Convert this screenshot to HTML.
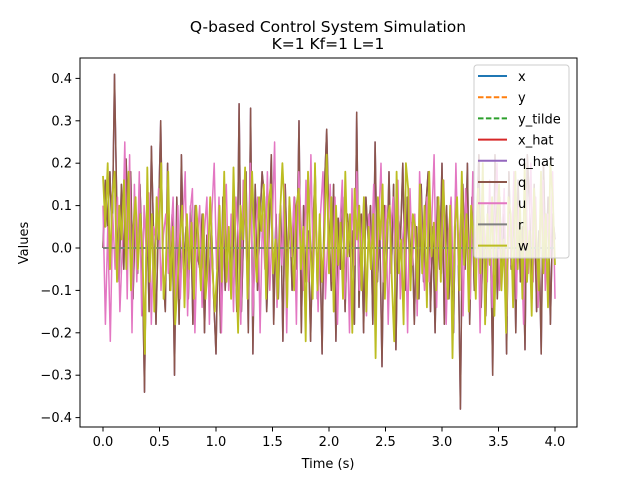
<!DOCTYPE html>
<html><head><meta charset="utf-8"><style>
body{margin:0;background:#fff}
svg text{font-family:"DejaVu Sans","Liberation Sans",sans-serif;fill:#000}
</style></head><body>
<svg id="c" width="640" height="480" viewBox="0 0 640 480" xmlns="http://www.w3.org/2000/svg"></svg>
<script>
const xTicks=[0.0,0.5,1.0,1.5,2.0,2.5,3.0,3.5,4.0];
const xTickLabels=["0.0","0.5","1.0","1.5","2.0","2.5","3.0","3.5","4.0"];
const yTicks=[-0.4,-0.3,-0.2,-0.1,0.0,0.1,0.2,0.3,0.4];
const yTickLabels=["−0.4","−0.3","−0.2","−0.1","0.0","0.1","0.2","0.3","0.4"];
const qVals=[0.0,0.16,0.05,0.18,0.02,0.41,0.10,-0.08,0.15,-0.05,0.21,0.02,0.18,-0.12,0.08,-0.06,0.15,-0.02,-0.34,0.10,-0.15,0.24,0.02,-0.18,0.05,0.30,-0.05,-0.15,0.20,-0.10,0.08,-0.30,0.12,-0.18,0.22,-0.05,0.05,-0.12,0.10,-0.18,0.10,-0.02,-0.05,0.08,-0.20,0.03,-0.10,0.06,-0.12,-0.25,0.04,-0.20,0.12,-0.10,0.05,0.02,-0.08,0.10,-0.15,0.34,-0.15,0.05,0.18,-0.20,0.33,-0.25,0.15,-0.10,0.05,0.18,0.12,-0.15,0.02,0.22,-0.18,0.08,-0.12,0.10,-0.22,0.15,-0.06,0.08,-0.10,0.12,-0.05,0.30,-0.20,0.10,-0.08,0.04,-0.22,0.05,0.18,-0.12,0.02,-0.25,0.14,0.28,0.05,-0.10,0.15,-0.22,0.07,-0.05,0.12,-0.15,0.08,-0.02,0.04,-0.18,0.32,-0.14,0.08,-0.20,0.12,0.02,0.10,-0.18,0.25,-0.08,0.05,-0.28,0.10,-0.05,0.18,-0.06,0.15,-0.24,0.08,0.02,0.20,-0.10,0.12,-0.05,0.06,-0.18,0.05,-0.12,0.15,-0.08,0.10,0.18,-0.15,0.05,-0.20,0.12,-0.05,0.20,-0.18,0.10,-0.12,0.05,-0.20,0.15,0.02,-0.38,0.15,-0.05,0.20,-0.18,0.12,-0.10,0.05,0.22,-0.14,0.08,-0.16,0.10,0.05,-0.30,0.22,-0.12,0.12,-0.06,0.08,-0.25,0.18,-0.05,0.10,-0.20,0.16,-0.08,0.05,-0.24,0.22,0.10,-0.12,0.15,-0.15,0.04,-0.25,0.20,-0.05,0.12,-0.18,0.08,0.02];
const wVals=[0.17,0.05,0.20,-0.05,0.12,0.18,-0.08,0.10,0.02,0.16,-0.05,0.18,-0.10,0.05,0.12,-0.05,0.08,-0.02,-0.25,0.19,-0.08,0.08,-0.15,0.12,0.02,0.20,-0.12,-0.05,0.18,-0.10,0.05,-0.18,-0.08,0.02,0.10,-0.14,0.08,-0.05,0.06,-0.12,0.10,0.02,-0.10,0.08,-0.12,-0.04,0.12,-0.05,-0.15,-0.05,0.10,-0.08,0.18,-0.08,0.05,-0.12,0.19,-0.02,-0.20,0.10,0.02,0.19,-0.12,0.05,0.18,0.02,-0.08,0.12,0.04,0.15,-0.12,0.10,0.15,-0.06,0.02,-0.12,0.08,0.20,0.08,-0.14,0.12,0.02,-0.10,0.10,0.14,-0.05,0.05,-0.22,0.18,0.00,-0.12,0.20,-0.10,0.08,-0.08,0.02,0.22,-0.06,0.12,-0.15,0.10,-0.04,0.06,-0.12,0.18,-0.02,0.08,-0.20,0.14,0.02,0.10,-0.10,0.12,-0.15,0.05,-0.05,0.08,-0.26,0.12,0.02,0.15,-0.12,0.06,0.10,-0.08,-0.22,0.18,-0.06,0.02,-0.18,0.20,0.14,-0.10,0.08,0.05,-0.12,0.15,-0.06,0.10,-0.14,0.18,-0.02,0.06,-0.10,0.12,-0.08,0.16,0.02,-0.12,0.10,-0.26,0.05,0.12,-0.10,0.18,-0.04,0.08,-0.15,0.10,0.02,-0.12,0.14,-0.06,0.20,-0.18,0.08,-0.04,0.12,-0.16,0.06,0.15,-0.10,0.02,-0.20,0.12,0.08,-0.14,0.18,-0.05,0.10,-0.12,0.20,-0.08,0.04,-0.16,0.14,0.02,-0.10,0.18,-0.06,0.08,-0.14,0.20,0.12,-0.04];
const uVals=[0.10,-0.18,0.05,-0.22,0.08,-0.05,0.12,-0.15,0.00,0.25,-0.12,0.22,-0.20,0.15,-0.08,0.18,-0.16,0.10,-0.02,0.13,-0.18,0.05,0.02,0.14,-0.10,0.03,0.08,-0.06,0.02,0.12,-0.15,0.10,-0.12,0.05,0.18,-0.16,0.08,0.14,-0.20,0.02,0.10,-0.14,0.04,0.12,-0.18,0.08,0.20,-0.05,0.12,-0.20,0.06,0.15,-0.10,0.08,-0.15,0.12,0.02,-0.18,0.16,0.05,-0.12,0.20,-0.16,0.02,0.12,-0.20,0.08,-0.05,0.18,-0.10,0.04,0.25,-0.14,0.08,-0.04,0.15,-0.20,0.10,-0.02,0.12,-0.18,0.18,0.05,-0.10,0.16,-0.08,0.22,-0.06,0.10,-0.15,0.08,0.18,-0.12,0.02,0.15,-0.08,0.12,-0.18,0.05,0.16,-0.12,0.06,-0.20,0.14,-0.04,0.18,-0.10,0.02,0.12,-0.16,0.08,-0.02,0.15,-0.14,0.05,0.20,-0.08,0.10,-0.18,0.04,0.12,-0.06,0.16,-0.12,0.02,0.10,-0.20,0.14,-0.04,0.08,-0.16,0.18,0.02,-0.10,0.12,-0.08,0.06,0.22,-0.14,0.10,-0.06,0.16,-0.18,0.04,0.12,-0.10,0.20,-0.04,0.08,-0.16,0.14,0.02,-0.12,0.18,-0.06,0.10,-0.20,0.12,0.04,-0.08,0.16,-0.14,0.06,0.20,-0.10,0.02,0.14,-0.16,0.08,-0.04,0.18,-0.12,0.10,0.02,-0.18,0.14,-0.06,0.20,-0.08,0.12,-0.14,0.04,0.16,-0.10,0.08,-0.02,0.18,-0.12];
const tStart=0, tEnd=4;
const L=80,R=577,T=58,B=427;
const X0=103,XS=113;
const Y0=248,YS=424;
const sx=v=>X0+v*XS, sy=v=>Y0-v*YS;
const svg=document.getElementById('c');
const NS='http://www.w3.org/2000/svg';
function mk(tag,attrs,parent){const e=document.createElementNS(NS,tag);for(const k in attrs)e.setAttribute(k,attrs[k]);(parent||svg).appendChild(e);return e;}
const clip=mk('clipPath',{id:'pc'});mk('rect',{x:L,y:T,width:R-L,height:B-T},clip);
const plot=mk('g',{'clip-path':'url(#pc)'});


function series(vals,color,name,w,dash){
  const n=vals.length;
  const pts=vals.map((v,i)=>sx(tStart+(tEnd-tStart)*i/(n-1)).toFixed(1)+','+sy(v).toFixed(1)).join(' ');
  const p=mk('polyline',{points:pts,fill:'none',stroke:color,'stroke-width':w||1.5,'stroke-linejoin':'round'},plot);
  if(dash)p.setAttribute('stroke-dasharray',dash);
  
  
}
const zeros=qVals.map(()=>0);
series(zeros,'#1f77b4','series-x');
series(zeros,'#ff7f0e','series-y',1.5,'5.5,2.4');
series(zeros,'#2ca02c','series-y-tilde',1.5,'5.5,2.4');
series(zeros,'#d62728','series-x-hat');
series(qVals,'#9467bd','series-q-hat');
series(qVals,'#8c564b','series-q');
series(uVals,'#e377c2','series-u');
series(zeros,'#7f7f7f','series-r',2);
series(wVals,'#bcbd22','series-w',1.8);
const fr=mk('rect',{x:L,y:T,width:R-L,height:B-T,fill:'none',stroke:'#000','stroke-width':1});


xTicks.forEach((v,i)=>{const x=sx(v);mk('line',{x1:x,x2:x,y1:B,y2:B+4.5,stroke:'#000'});
 const t=mk('text',{x:x,y:B+19,'font-size':13,'text-anchor':'middle'});t.textContent=xTickLabels[i];
 });
yTicks.forEach((v,i)=>{const y=sy(v);mk('line',{x1:L-4.5,x2:L,y1:y,y2:y,stroke:'#000'});
 const t=mk('text',{x:L-8,y:y+4.5,'font-size':13,'text-anchor':'end'});t.textContent=yTickLabels[i];
 });
let t=mk('text',{x:328,y:468,'font-size':13,'text-anchor':'middle'});t.textContent='Time (s)';

t=mk('text',{x:0,y:0,'font-size':13,'text-anchor':'middle',transform:'translate(28,243) rotate(-90)'});t.textContent='Values';

t=mk('text',{x:328,y:32,'font-size':15.5,'text-anchor':'middle'});t.textContent='Q-based Control System Simulation';

t=mk('text',{x:328,y:49,'font-size':15.5,'text-anchor':'middle'});t.textContent='K=1 Kf=1 L=1';

const lg=mk('g',{});


mk('rect',{x:474,y:65,width:95,height:193,rx:3,fill:'rgba(255,255,255,0.8)',stroke:'#ccc'},lg);
const entries=[['x','#1f77b4',''],['y','#ff7f0e','5.5,2.4'],['y_tilde','#2ca02c','5.5,2.4'],['x_hat','#d62728',''],['q_hat','#9467bd',''],['q','#8c564b',''],['u','#e377c2',''],['r','#7f7f7f',''],['w','#bcbd22','']];
entries.forEach((e,i)=>{const y=76+i*21.2;const g=mk('g',{},lg);
 
 const l=mk('line',{x1:478,x2:507,y1:y,y2:y,stroke:e[1],'stroke-width':2},g);if(e[2])l.setAttribute('stroke-dasharray',e[2]);
 const tx=mk('text',{x:518,y:y+5,'font-size':13},g);tx.textContent=e[0];});
</script>
</body></html>
